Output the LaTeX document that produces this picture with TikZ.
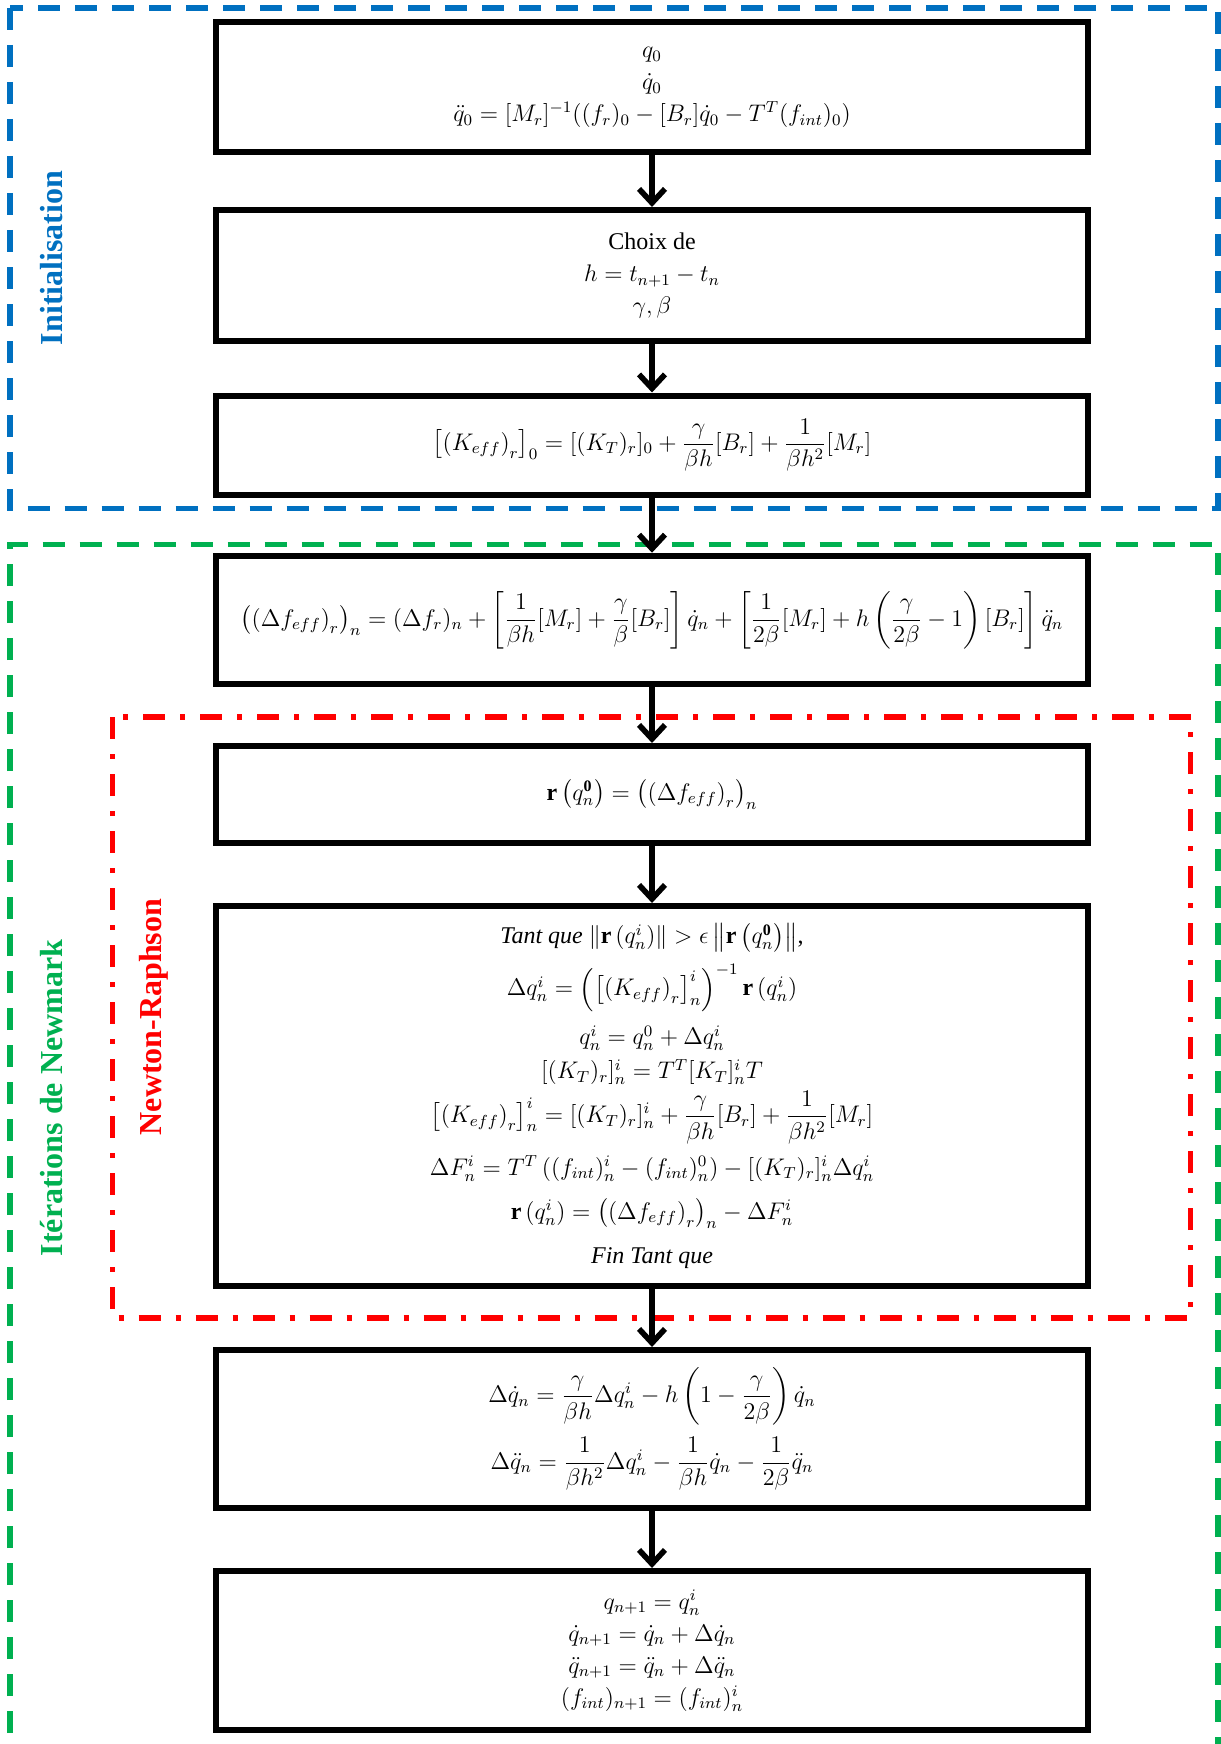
\documentclass[tikz,border=0pt]{standalone}
\usepackage{amsmath}
\usepackage{fontspec}
\setmainfont{Liberation Serif}
\usetikzlibrary{arrows.meta}

\definecolor{initBlue}    {RGB}{0,  112, 192}
\definecolor{newmarkGreen}{RGB}{0,  176, 80}
\definecolor{newtonRed}   {RGB}{255, 0,  0}

\tikzset{
  boite/.style={draw=black,line width=3pt,fill=white,minimum width=436pt,
                align=center,font=\fontsize{12}{16}\selectfont},
  fleche/.style={-{Straight Barb[length=7pt,width=13pt]},line width=2.8pt},
  cadre/.style={line width=2.8pt,dash pattern=on 11pt off 7.5pt},
  cadreRouge/.style={line width=2.8pt,newtonRed,
                     dash pattern=on 11pt off 7.5pt on 2.5pt off 7.5pt},
  titre/.style={rotate=90,font=\fontsize{16}{19}\selectfont\bfseries}
}

\begin{document}
\begin{tikzpicture}[x=0.5pt,y=-0.5pt]

    \useasboundingbox (0,0) rectangle (1220,1744);

    % cadres
    \draw[cadre,initBlue] (10,8) rectangle (1218,508.5);
    \draw[cadre,newmarkGreen] (10,1770) -- (10,544.5) -- (1218,544.5) -- (1218,1770);
    \draw[cadreRouge] (112.5,717) rectangle (1190.5,1318);

    \node[titre,initBlue] (tInit) at (52,258){Initialisation};
    \node[titre,newmarkGreen] (tNewmark) at (52,1098){Itérations de Newmark};
    \node[titre,newtonRed] (tNewton) at (154,1017){Newton-Raphson};

    % Initialisation
    \node[boite,minimum height=65.25pt] (ini) at (652,87.25)
      {$q_0$\\ $\dot{q}_0$\\
       $\ddot{q}_0=[M_r]^{-1}((f_r)_0-[B_r]\dot{q}_0-T^T(f_{int})_0)$};
    \node[boite,minimum height=65.5pt] (choix) at (652,275.5)
      {Choix de\\ $h=t_{n+1}-t_n$\\ $\gamma,\beta$};
    \node[boite,minimum height=49.5pt] (keff) at (652,445)
      {$\left[\left(K_{eff}\right)_r\right]_0=[(K_T)_r]_0+\dfrac{\gamma}{\beta h}[B_r]
        +\dfrac{1}{\beta h^2}[M_r]$};

    % Newmark
    \node[boite,minimum height=64.25pt] (feff) at (652,620)
      {$\left(\left(\Delta f_{eff}\right)_r\right)_n=(\Delta f_r)_n
        +\left[\dfrac{1}{\beta h}[M_r]+\dfrac{\gamma}{\beta}[B_r]\right]\dot{q}_n
        +\left[\dfrac{1}{2\beta}[M_r]+h\left(\dfrac{\gamma}{2\beta}-1\right)[B_r]\right]\ddot{q}_n$};

    % Newton-Raphson
    \node[boite,minimum height=48.5pt] (res) at (652,794.5)
      {$\mathbf{r}\left(q_n^{\mathbf{0}}\right)=\left(\left(\Delta f_{eff}\right)_r\right)_n$};
    \node[boite,minimum height=190pt] (boucle) at (652,1096)
      {\textit{Tant que} $\left\|\mathbf{r}\left(q_n^i\right)\right\|>\epsilon
        \left\|\mathbf{r}\left(q_n^{\mathbf{0}}\right)\right\|$,\\[5pt]
       $\Delta q_n^i=\left(\left[\left(K_{eff}\right)_r\right]_n^i\right)^{-1}
        \mathbf{r}\left(q_n^i\right)$\\[6pt]
       $q_n^i=q_n^0+\Delta q_n^i$\\[1pt]
       $[(K_T)_r]_n^i=T^T[K_T]_n^iT$\\[2pt]
       $\left[\left(K_{eff}\right)_r\right]_n^i=[(K_T)_r]_n^i+\dfrac{\gamma}{\beta h}[B_r]
        +\dfrac{1}{\beta h^2}[M_r]$\\[5pt]
       $\Delta F_n^i=T^T\left((f_{int})_n^i-(f_{int})_n^0\right)-[(K_T)_r]_n^i\Delta q_n^i$\\[6pt]
       $\mathbf{r}\left(q_n^i\right)=\left(\left(\Delta f_{eff}\right)_r\right)_n-\Delta F_n^i$\\[6pt]
       \textit{Fin Tant que}};

    % mise a jour
    \node[boite,minimum height=79pt] (vit) at (652,1429)
      {$\Delta\dot{q}_n=\dfrac{\gamma}{\beta h}\Delta q_n^i
        -h\left(1-\dfrac{\gamma}{2\beta}\right)\dot{q}_n$\\[5pt]
       $\Delta\ddot{q}_n=\dfrac{1}{\beta h^2}\Delta q_n^i-\dfrac{1}{\beta h}\dot{q}_n
        -\dfrac{1}{2\beta}\ddot{q}_n$};
    \node[boite,minimum height=79.5pt] (maj) at (652,1650.5)
      {$q_{n+1}=q_n^i$\\ $\dot{q}_{n+1}=\dot{q}_n+\Delta\dot{q}_n$\\
       $\ddot{q}_{n+1}=\ddot{q}_n+\Delta\ddot{q}_n$\\
       $(f_{int})_{n+1}=(f_{int})_n^i$};

    % fleches
    \foreach \a/\b in {ini/choix,choix/keff,keff/feff,feff/res,res/boucle,boucle/vit,vit/maj}{
      \draw[fleche] (\a) -- (\b);
    }

\end{tikzpicture}
\end{document}
